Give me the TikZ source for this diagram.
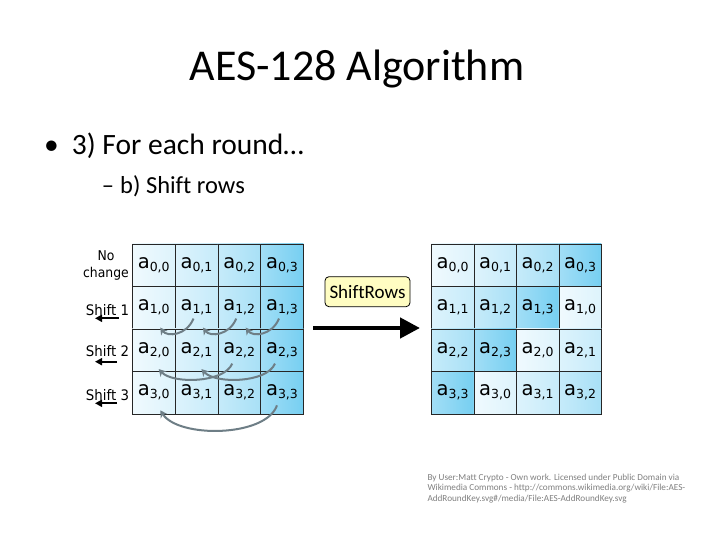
\documentclass[tikz,border=0pt]{standalone}
\usepackage{fontspec}
\setmainfont{Carlito}[Ligatures=NoCommon]
\newfontfamily\vfont{DejaVu Sans}[Ligatures=NoCommon]
\newfontfamily\vfontn{DejaVu Sans}[FakeStretch=0.92,Ligatures=NoCommon]
\usetikzlibrary{arrows.meta,calc}
\definecolor{cL0}{HTML}{F0FAFE}
\definecolor{cR0}{HTML}{DDF3FC}
\definecolor{cL1}{HTML}{DDF3FC}
\definecolor{cR1}{HTML}{C6EBFA}
\definecolor{cL2}{HTML}{C6EBFA}
\definecolor{cR2}{HTML}{A8E0F6}
\definecolor{cL3}{HTML}{A2DEF6}
\definecolor{cR3}{HTML}{76CFF1}
\definecolor{arrgray}{HTML}{6E7E86}
\definecolor{boxyellow}{HTML}{FFFDC2}
\definecolor{credit}{HTML}{808080}
\newcommand\cellA[2]{{\vfont\fontsize{19.5}{19.5}\selectfont a\raisebox{-3.2pt}{\fontsize{12.5}{12.5}\selectfont #1,#2}}}
\tikzset{
  cellbox/.style={draw=black!85, line width=0.7pt, minimum width=42.75pt, minimum height=42.5pt, inner sep=0pt, anchor=north west},
  rcellbox/.style={cellbox, minimum width=42.5pt},
  lbl/.style={font=\vfontn\fontsize{14.5}{14.5}\selectfont, anchor=base, inner sep=0pt},
  lbls/.style={font=\vfontn\fontsize{13.5}{13.5}\selectfont, anchor=base, inner sep=0pt},
  shiftarrow/.style={line width=2pt, -{Triangle[length=7pt,width=7pt]}},
  rotarrow/.style={draw=arrgray, line width=2pt, -{Stealth[length=7pt,width=8pt]}},
  bigarrow/.style={line width=4.5pt, -{Triangle[length=20pt,width=20pt]}},
  txt/.style={anchor=base west, inner sep=0pt}
}
\begin{document}
\begin{tikzpicture}[x=1pt,y=-1pt]
\fill[white] (0,0) rectangle (720,540);
\useasboundingbox (0,0) rectangle (720,540);
% title and bullets
\node[anchor=base, inner sep=0pt, font=\fontsize{44}{44}\selectfont] (title) at (357,81) {AES-128 Algorithm};
\node[txt, font=\fontsize{29.5}{29.5}\selectfont] (b1) at (44,155) {•};
\node[txt, font=\fontsize{29.5}{29.5}\selectfont] (t1) at (71.7,155) {3) For each round…};
\node[txt, font=\fontsize{24.5}{24.5}\selectfont] (b2) at (101.7,193.3) {–};
\node[txt, font=\fontsize{24.5}{24.5}\selectfont] (t2) at (120,193.3) {b) Shift rows};
% grids
\foreach \r in {0,...,3}{
  \foreach \c in {0,...,3}{
    \pgfmathtruncatemacro\k{mod(\c+\r,4)}
    \node[cellbox, left color=cL\c, right color=cR\c] (L\r\c) at (132+42.75*\c, 243.5+42.5*\r) {\cellA{\r}{\c}};
    \node[rcellbox, left color=cL\k, right color=cR\k] (R\r\c) at (431+42.5*\c, 243.5+42.5*\r) {\cellA{\r}{\k}};
  }
}
% row labels
\node[lbls] (nc1) at (106,260.5) {No};
\node[lbls] (nc2) at (106,277) {change};
\node[lbl] (s1) at (107.5,315) {Shift 1};
\node[lbl] (s2) at (107.5,356.7) {Shift 2};
\node[lbl] (s3) at (107.5,400) {Shift 3};
\coordinate (s1a) at (118.5,318.3); \coordinate (s1b) at (95,318.3);
\coordinate (s2a) at (117,361.7); \coordinate (s2b) at (95,361.7);
\coordinate (s3a) at (117,403.3); \coordinate (s3b) at (95,403.3);
\draw[shiftarrow] (s1a) -- (s1b);
\draw[shiftarrow] (s2a) -- (s2b);
\draw[shiftarrow] (s3a) -- (s3b);
% rotation arrows row 1
\foreach \c/\p in {1/0,2/1,3/2}{
  \coordinate (st) at ([shift={(-3,11)}]L1\c.center);
  \coordinate (tp) at ([shift={(6.5,20)}]L1\p.center);
  \draw[rotarrow] (st) .. controls ($(st)+(-7,17)$) and ($(tp)+(7,9.5)$) .. (tp);
}
% row 2
\foreach \c/\p in {2/0,3/1}{
  \coordinate (st) at ([shift={(-7,13.5)}]L2\c.center);
  \coordinate (tp) at ([shift={(5,19)}]L2\p.center);
  \draw[rotarrow] (st) .. controls ($(st)+(-8,19.5)$) and ($(tp)+(14,15)$) .. (tp);
}
% row 3
\coordinate (st3) at ([shift={(-5,12.75)}]L33.center);
\coordinate (tp3) at ([shift={(6.6,17.75)}]L30.center);
\draw[rotarrow] (st3) .. controls ($(st3)+(-11,32)$) and ($(tp3)+(18,28)$) .. (tp3);
% ShiftRows box and arrow
\node[draw=black, line width=0.8pt, fill=boxyellow, rounded corners=4pt, minimum width=85pt, minimum height=30pt, inner sep=0pt, font=\fontsize{19}{19}\selectfont] (SR) at (367.5,291.7) {ShiftRows};
\coordinate (ba) at (313,328);
\coordinate (bb) at (420,328);
\draw[bigarrow] (ba) -- (bb);
% credit
\node[anchor=base west, inner sep=0pt, align=left, text=credit, font=\fontsize{9.2}{10.5}\selectfont] (cr) at (427.3,501) {By User:Matt Crypto - Own work. Licensed under Public Domain via\\Wikimedia Commons - http://commons.wikimedia.org/wiki/File:AES-\\AddRoundKey.svg\#/media/File:AES-AddRoundKey.svg};
\end{tikzpicture}
\end{document}
